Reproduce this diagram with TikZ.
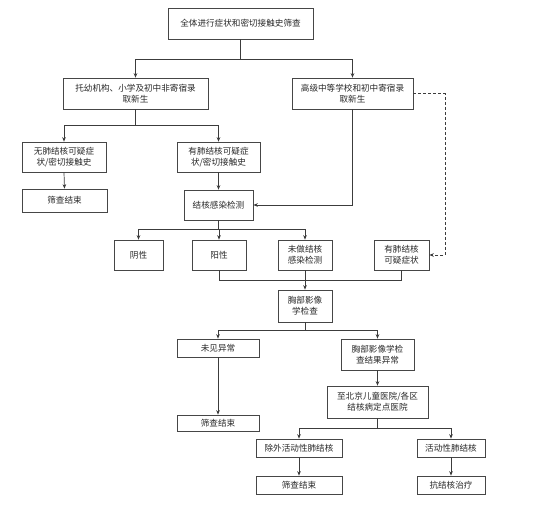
\documentclass[tikz,border=0pt]{standalone}
\usepackage{fontspec}
\setmainfont{Noto Sans CJK SC}
\usetikzlibrary{arrows.meta}
\definecolor{boxline}{RGB}{70,70,70}
\definecolor{txt}{RGB}{40,40,40}
\definecolor{conn}{RGB}{60,60,60}
\begin{document}
\begin{tikzpicture}[x=1pt,y=-1pt,
  box/.style={draw=boxline, line width=0.7pt, fill=white, inner sep=0pt, align=center,
    text=txt, font=\fontsize{8.6}{11}\selectfont},
  link/.style={draw=conn, line width=0.7pt},
  arr/.style={link, -{Stealth[length=4.5pt,width=3.6pt]}},
  dlink/.style={arr, dashed, dash pattern=on 3pt off 2pt}]
\fill[white] (0,0) rectangle (554,517);
\useasboundingbox (0,0) rectangle (554,517);
% boxes
\node[box, minimum width=145pt, minimum height=31pt] (top) at (240.5,23.5) {全体进行症状和密切接触史筛查};
\node[box, minimum width=145pt, minimum height=31pt] (A) at (135.5,93.5) {托幼机构、小学及初中非寄宿录\\取新生};
\node[box, minimum width=121pt, minimum height=31pt] (B) at (352.5,93.5) {高级中等学校和初中寄宿录\\取新生};
\node[box, minimum width=84pt, minimum height=30pt] (C) at (64,157) {无肺结核可疑症\\状/密切接触史};
\node[box, minimum width=83pt, minimum height=30pt] (D) at (218.5,157) {有肺结核可疑症\\状/密切接触史};
\node[box, minimum width=85pt, minimum height=23pt] (E) at (64.5,200.5) {筛查结束};
\node[box, minimum width=69pt, minimum height=30pt] (F) at (218.5,205) {结核感染检测};
\node[box, minimum width=49pt, minimum height=30pt] (G) at (138.5,255) {阴性};
\node[box, minimum width=54pt, minimum height=30pt] (H) at (219,255) {阳性};
\node[box, minimum width=54pt, minimum height=30pt] (I) at (305,255) {未做结核\\感染检测};
\node[box, minimum width=55pt, minimum height=30pt] (J) at (401.5,255) {有肺结核\\可疑症状};
\node[box, minimum width=54pt, minimum height=32pt] (K) at (305,306) {胸部影像\\学检查};
\node[box, minimum width=82pt, minimum height=18pt] (L) at (218,348) {未见异常};
\node[box, minimum width=73pt, minimum height=31pt] (M) at (377.5,354.5) {胸部影像学检\\查结果异常};
\node[box, minimum width=101pt, minimum height=32pt] (N) at (377.5,402) {至北京儿童医院/各区\\结核病定点医院};
\node[box, minimum width=82pt, minimum height=16pt] (O) at (218,423) {筛查结束};
\node[box, minimum width=86pt, minimum height=18pt] (P) at (299,448) {除外活动性肺结核};
\node[box, minimum width=68pt, minimum height=18pt] (Q) at (451,448) {活动性肺结核};
\node[box, minimum width=86pt, minimum height=18pt] (R) at (299,485) {筛查结束};
\node[box, minimum width=68pt, minimum height=18pt] (S) at (451,485) {抗结核治疗};
% junction coordinates
\coordinate (j1) at (240.5,59);
\coordinate (j2) at (135.5,125);
\coordinate (j3) at (218.5,229);
\coordinate (j4) at (305,280);
\coordinate (j5) at (305,330);
\coordinate (j6) at (377.5,428);
\coordinate (bf) at (352.5,205);
\coordinate (dj) at (445,93.5);
% connectors
\draw[link] (top.south) -- (j1);
\draw[arr] (j1) -| (A.north);
\draw[arr] (j1) -| (B.north);
\draw[link] (A.south) -- (j2);
\draw[arr] (j2) -| (C.north);
\draw[arr] (j2) -| (D.north);
\draw[arr] (C.south) -- (E.north);
\draw[arr] (D.south) -- (F.north);
\draw[arr] (B.south) -- (bf) -- (F.east);
\draw[dlink] (B.east) -- (dj) |- (J.east);
\draw[link] (F.south) -- (j3);
\draw[arr] (j3) -| (G.north);
\draw[arr] (j3) -| (H.north);
\draw[arr] (j3) -| (I.north);
\draw[link] (H.south) |- (j4);
\draw[link] (I.south) -- (j4);
\draw[link] (J.south) |- (j4);
\draw[arr] (j4) -- (K.north);
\draw[link] (K.south) -- (j5);
\draw[arr] (j5) -| (L.north);
\draw[arr] (j5) -| (M.north);
\draw[arr] (L.south) -- (O.north);
\draw[arr] (M.south) -- (N.north);
\draw[link] (N.south) -- (j6);
\draw[arr] (j6) -| (P.north);
\draw[arr] (j6) -| (Q.north);
\draw[arr] (P.south) -- (R.north);
\draw[arr] (Q.south) -- (S.north);
\end{tikzpicture}
\end{document}
